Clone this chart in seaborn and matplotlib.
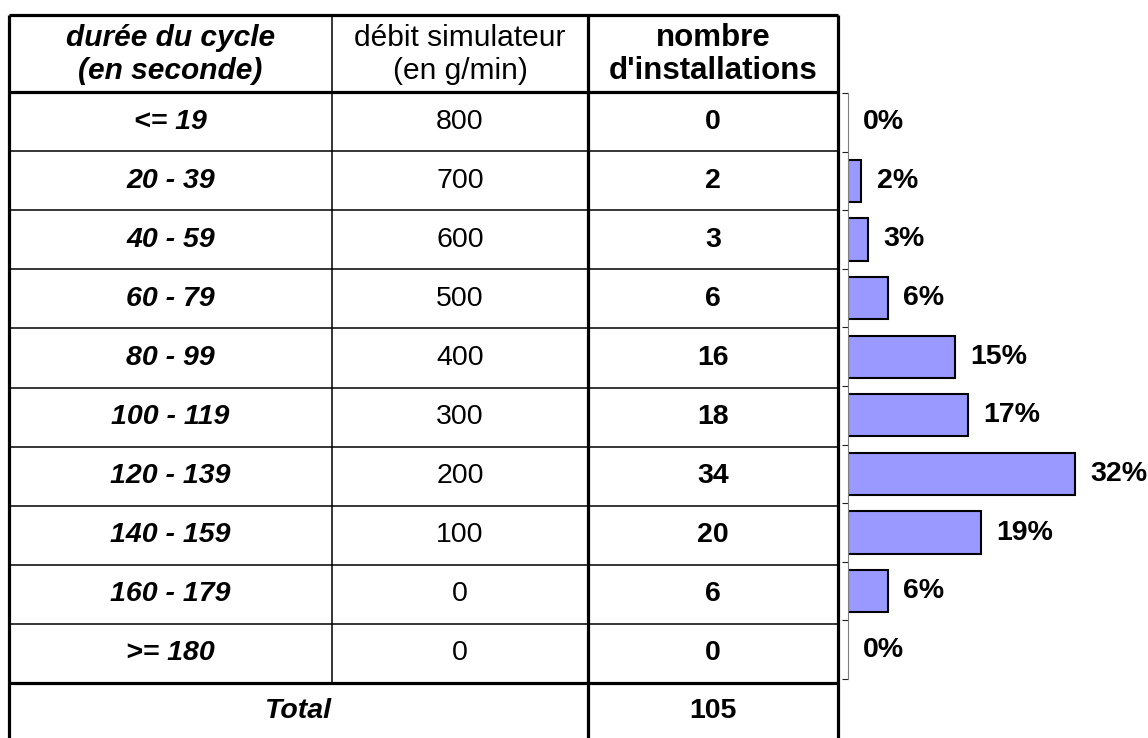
import matplotlib
matplotlib.use('Agg')
import matplotlib.pyplot as plt
import seaborn as sns
import numpy as np
import pandas as pd

# table content
durees = ['<= 19', '20 - 39', '40 - 59', '60 - 79', '80 - 99',
          '100 - 119', '120 - 139', '140 - 159', '160 - 179', '>= 180']
debit = [800, 700, 600, 500, 400, 300, 200, 100, 0, 0]
installations = [0, 2, 3, 6, 16, 18, 34, 20, 6, 0]
header_duree = ['durée du cycle', '(en seconde)']
header_debit = ['débit simulateur', '(en g/min)']
header_nombre = ['nombre', "d'installations"]
total_label = 'Total'

total = sum(installations)
df = pd.DataFrame({'duree': durees, 'debit': debit, 'n': installations})
df['pct'] = df['n'] / total * 100
labels = ['{:.0f}%'.format(p) for p in df['pct']]

sns.set_theme(style='white')
plt.rcParams['font.family'] = ['Liberation Sans', 'DejaVu Sans']
plt.rcParams['text.color'] = 'black'

W, H = 1148, 738
fig = plt.figure(figsize=(W / 100, H / 100), dpi=100)

# table drawn in pixel coordinates
tab = fig.add_axes([0, 0, 1, 1])
tab.set_xlim(0, W)
tab.set_ylim(H, 0)
tab.axis('off')

x_left, x_c1, x_c2, x_right = 9, 332, 588, 838
y_top, y_head = 15, 92
row_h = 59.1
y_total = y_head + row_h * len(durees)
thick, thin = 2.3, 1.1

tab.hlines([y_top, y_head, y_total], x_left, x_right, color='black', lw=thick)
tab.hlines([y_head + row_h * k for k in range(1, len(durees))], x_left, x_right,
           color='black', lw=thin)
tab.vlines([x_left, x_c2, x_right], y_top, H, color='black', lw=thick)
tab.vlines(x_c1, y_top, y_total, color='black', lw=thin)

cx1 = (x_left + x_c1) / 2
cx2 = (x_c1 + x_c2) / 2
cx3 = (x_c2 + x_right) / 2
hs = 21.5
for i, yy in enumerate([38, 71]):
    tab.text(cx1, yy, header_duree[i], ha='center', va='center', fontsize=hs,
             fontweight='bold', style='italic')
    tab.text(cx2, yy, header_debit[i], ha='center', va='center', fontsize=hs)
    tab.text(cx3, yy, header_nombre[i], ha='center', va='center', fontsize=hs + 1,
             fontweight='bold')

fs = 20.5
for i, row in df.iterrows():
    yy = y_head + row_h * (i + 0.5)
    tab.text(cx1, yy, row['duree'], ha='center', va='center', fontsize=fs,
             fontweight='bold', style='italic')
    tab.text(cx2, yy, str(row['debit']), ha='center', va='center', fontsize=fs)
    tab.text(cx3, yy, str(row['n']), ha='center', va='center', fontsize=fs,
             fontweight='bold')

yy = (y_total + H) / 2
tab.text((x_left + x_c2) / 2, yy, total_label, ha='center', va='center',
         fontsize=fs, fontweight='bold', style='italic')
tab.text(cx3, yy, str(total), ha='center', va='center', fontsize=fs,
         fontweight='bold')

# bar chart next to the table
ax = fig.add_axes([848 / W, 1 - 679 / H, 300 / W, (679 - 93) / H])
sns.barplot(data=df, x='pct', y='duree', orient='h', color='#9999FF',
            saturation=1, edgecolor='black', linewidth=1.5, width=0.72, ax=ax)
for p in ax.patches:
    if p.get_width() == 0:
        p.set_linewidth(0)
ax.bar_label(ax.containers[0], labels=labels, padding=11, fontsize=20.5,
             fontweight='bold', color='black', clip_on=False)

ax.set_xlim(0, 300 / 7.0)
ax.set_ylim(len(durees) - 0.5, -0.5)
ax.set_yticks(np.arange(-0.5, len(durees), 1))
ax.set_yticklabels([])
ax.set_xticks([])
ax.set_xlabel('')
ax.set_ylabel('')
for s in ['top', 'right', 'bottom']:
    ax.spines[s].set_visible(False)
ax.spines['left'].set_color('#808080')
ax.spines['left'].set_linewidth(0.8)
ax.tick_params(axis='y', direction='out', length=4.5, width=0.8,
               color='#202020', left=True)
ax.patch.set_alpha(0)

fig.savefig('out.png', dpi=100)
